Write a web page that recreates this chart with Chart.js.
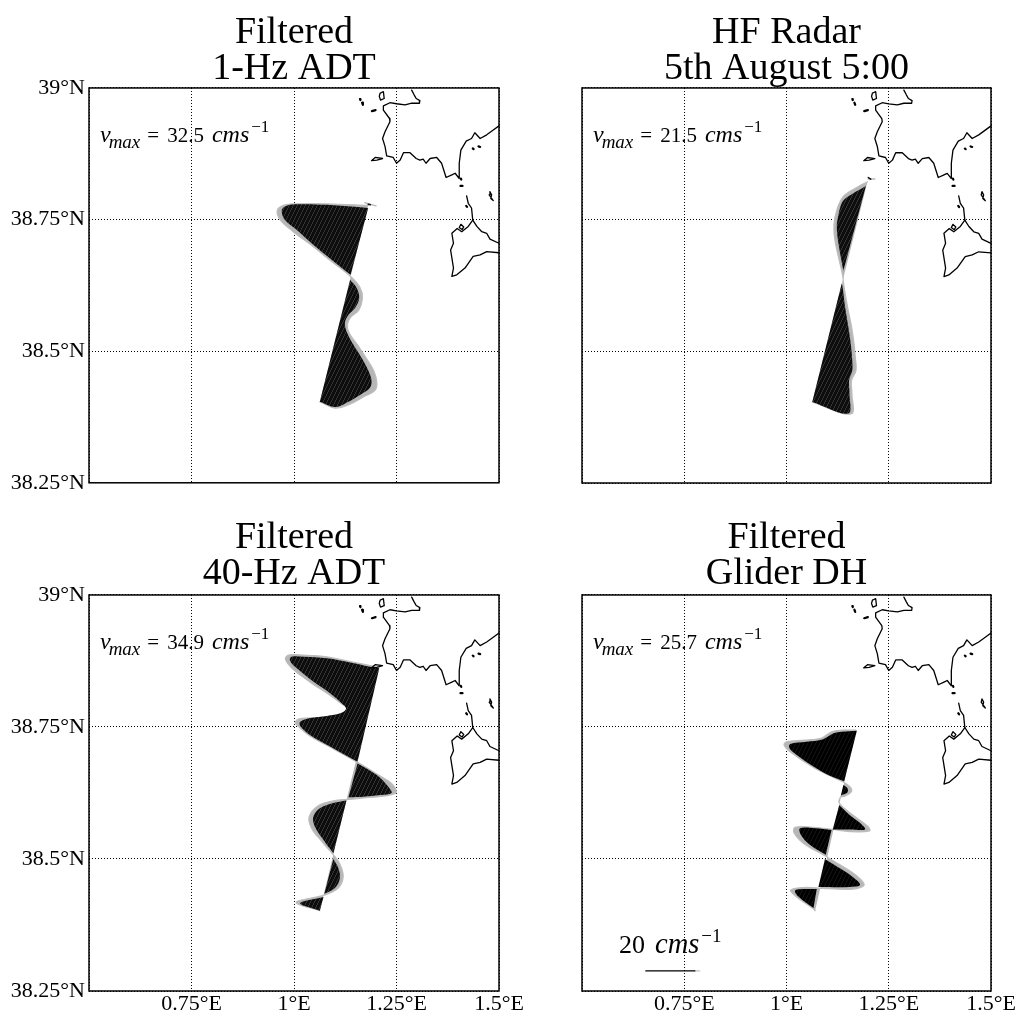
<!DOCTYPE html>
<html><head><meta charset="utf-8">
<script src="https://cdn.jsdelivr.net/npm/chart.js@4"></script>
<style>
html,body{margin:0;padding:0;background:#fff;overflow:hidden;width:1023px;height:1020px}
canvas{position:absolute}
</style></head><body>
<canvas id="p0"></canvas><canvas id="p1"></canvas><canvas id="p2"></canvas><canvas id="p3"></canvas>
<script>
/* axis ticks */
const lonTickValues=[0.5,0.75,1,1.25,1.5];
const lonTickLabels=['','0.75°E','1°E','1.25°E','1.5°E'];
const latTickValues=[38.25,38.5,38.75,39];
const latTickLabels=['38.25°N','38.5°N','38.75°N','39°N'];
const titles=[['Filtered','1-Hz ADT'],['HF Radar','5th August 5:00'],['Filtered','40-Hz ADT'],['Filtered','Glider DH']];
const vmaxValues=['32.5','21.5','34.9','25.7'];
const scaleLabel='20';
const scaleLine=[[0.656,38.288],[0.776,38.288]];
const scaleLineTip=[[0.776,38.288],[0.788,38.288]];

/* coastline, lon/lat */
const coastNorth=[[1.287,38.996],[1.293,38.987],[1.298,38.980],[1.307,38.976],[1.306,38.971],[1.287,38.971],[1.271,38.968],[1.250,38.970],[1.234,38.972],[1.218,38.966],[1.218,38.958],[1.233,38.942],[1.234,38.936],[1.222,38.917],[1.216,38.904],[1.222,38.889],[1.226,38.871],[1.242,38.868],[1.250,38.857],[1.259,38.863],[1.267,38.877],[1.283,38.877],[1.298,38.866],[1.307,38.863],[1.315,38.865],[1.322,38.857],[1.332,38.866],[1.348,38.868],[1.360,38.857],[1.371,38.830],[1.385,38.835],[1.393,38.838],[1.403,38.828],[1.403,38.857],[1.407,38.882],[1.420,38.899],[1.433,38.904],[1.441,38.915],[1.454,38.904],[1.470,38.911],[1.486,38.920],[1.500,38.928]];
const coastEast=[[1.421,38.795],[1.425,38.781],[1.433,38.772],[1.436,38.749],[1.446,38.737],[1.458,38.727],[1.470,38.724],[1.478,38.713],[1.500,38.705]];
const coastSouth=[[1.500,38.687],[1.470,38.689],[1.454,38.683],[1.437,38.680],[1.417,38.658],[1.397,38.645],[1.385,38.642],[1.389,38.658],[1.382,38.692],[1.389,38.705],[1.385,38.724],[1.398,38.733],[1.409,38.727],[1.425,38.737],[1.436,38.749]];
const islandA=[[1.210,38.990],[1.218,38.993],[1.220,38.980],[1.211,38.977],[1.208,38.984],[1.210,38.990]];
const islandB=[[1.189,38.862],[1.198,38.868],[1.216,38.866],[1.202,38.863],[1.189,38.862]];
const islandC=[[1.478,38.803],[1.482,38.797],[1.480,38.790],[1.486,38.786],[1.476,38.797],[1.478,38.803]];
const islandD=[[1.407,38.741],[1.414,38.736],[1.410,38.731],[1.403,38.735],[1.407,38.741]];
const islets=[[[1.161,38.979],[1.162,38.977]],[[1.166,38.972],[1.168,38.968]],[[1.190,38.956],[1.199,38.958]],[[1.436,38.885],[1.438,38.884]],[[1.450,38.889],[1.454,38.888]],[[1.407,38.828],[1.408,38.826]],[[1.406,38.814],[1.411,38.814]],[[1.420,38.776],[1.422,38.774]]];

/* 1-Hz ADT */
const adt1Lobes=[
 [[1.181,38.772],[1.080,38.778],[1.003,38.779],[0.978,38.775],[0.970,38.767],[0.978,38.749],[1.007,38.730],[1.047,38.702],[1.088,38.676],[1.138,38.645]],
 [[1.137,38.635],[1.153,38.620],[1.159,38.601],[1.149,38.582],[1.133,38.569],[1.124,38.553],[1.130,38.534],[1.145,38.512],[1.165,38.487],[1.181,38.464],[1.189,38.445],[1.185,38.430],[1.161,38.417],[1.133,38.404],[1.100,38.394],[1.063,38.404]]];
const adt1Edge=[[1.181,38.777],[1.080,38.780],[1.003,38.780],[0.974,38.777],[0.959,38.767],[0.967,38.749],[0.998,38.727],[1.043,38.701],[1.084,38.675],[1.138,38.642],[1.161,38.621],[1.167,38.601],[1.158,38.578],[1.138,38.564],[1.130,38.550],[1.135,38.534],[1.155,38.512],[1.176,38.487],[1.194,38.464],[1.202,38.442],[1.198,38.426],[1.169,38.413],[1.138,38.400],[1.100,38.392],[1.063,38.404]];
const adt1Tip=[[1.173,38.782],[1.200,38.776]];
const adt1TipDark=[[1.181,38.779],[1.186,38.778]];

/* HF radar */
const radarLobes=[
 [[1.194,38.814],[1.147,38.792],[1.135,38.781],[1.127,38.759],[1.123,38.737],[1.127,38.705],[1.139,38.653]],
 [[1.135,38.629],[1.137,38.623],[1.143,38.585],[1.151,38.547],[1.157,38.515],[1.160,38.490],[1.161,38.464],[1.153,38.445],[1.154,38.420],[1.151,38.382],[1.063,38.404]]];
const radarEdge=[[1.198,38.822],[1.176,38.813],[1.139,38.794],[1.123,38.768],[1.116,38.740],[1.119,38.708],[1.137,38.645],[1.140,38.626],[1.149,38.585],[1.159,38.547],[1.165,38.515],[1.168,38.490],[1.170,38.464],[1.159,38.445],[1.160,38.420],[1.158,38.381],[1.063,38.404]];
const radarTip=[[1.200,38.827],[1.216,38.827]];
const radarTipDark=[[1.200,38.830],[1.206,38.827]];

/* 40-Hz ADT */
const adt40Lobes=[
 [[1.208,38.861],[1.185,38.864],[1.137,38.872],[1.080,38.880],[1.023,38.883],[0.994,38.883],[0.990,38.876],[1.007,38.861],[1.047,38.836],[1.088,38.814],[1.116,38.795],[1.127,38.785],[1.116,38.777],[1.080,38.771],[1.039,38.767],[1.015,38.760],[1.015,38.752],[1.039,38.735],[1.088,38.713],[1.155,38.684]],
 [[1.155,38.681],[1.202,38.659],[1.230,38.637],[1.238,38.625],[1.210,38.621],[1.169,38.618],[1.133,38.617]],
 [[1.128,38.611],[1.096,38.606],[1.063,38.596],[1.047,38.580],[1.051,38.561],[1.072,38.536],[1.096,38.511]],
 [[1.096,38.500],[1.108,38.483],[1.112,38.464],[1.100,38.445],[1.074,38.434]],
 [[1.072,38.428],[1.015,38.416],[1.063,38.402]]];
const adt40Edge=[[1.206,38.863],[1.137,38.874],[1.080,38.883],[1.023,38.886],[0.986,38.886],[0.979,38.878],[0.998,38.859],[1.043,38.833],[1.086,38.811],[1.116,38.794],[1.133,38.784],[1.122,38.775],[1.080,38.768],[1.039,38.767],[1.011,38.765],[1.003,38.758],[1.015,38.748],[1.039,38.733],[1.088,38.712],[1.155,38.683],[1.206,38.659],[1.238,38.643],[1.249,38.626],[1.226,38.620],[1.177,38.616],[1.133,38.613],[1.096,38.610],[1.059,38.601],[1.037,38.580],[1.043,38.558],[1.068,38.533],[1.096,38.508],[1.111,38.492],[1.120,38.467],[1.108,38.445],[1.076,38.432],[1.005,38.418],[1.063,38.402]];

/* glider DH */
const gliderLobes=[
 [[1.172,38.743],[1.135,38.741],[1.115,38.738],[1.090,38.727],[1.049,38.722],[1.009,38.718],[1.007,38.710],[1.025,38.697],[1.066,38.675],[1.102,38.659],[1.141,38.647]],
 [[1.139,38.640],[1.149,38.634],[1.149,38.626],[1.135,38.621],[1.132,38.617]],
 [[1.129,38.602],[1.155,38.583],[1.180,38.568],[1.192,38.556],[1.155,38.556],[1.113,38.556]],
 [[1.110,38.555],[1.070,38.558],[1.033,38.558],[1.035,38.546],[1.057,38.527],[1.096,38.508]],
 [[1.094,38.500],[1.123,38.486],[1.155,38.470],[1.180,38.451],[1.155,38.447],[1.078,38.447]],
 [[1.074,38.443],[1.041,38.443],[1.021,38.440],[1.029,38.429],[1.066,38.407]]];
const gliderEdge=[[1.170,38.744],[1.135,38.744],[1.110,38.741],[1.086,38.729],[1.045,38.725],[1.000,38.722],[0.994,38.716],[1.009,38.703],[1.062,38.675],[1.102,38.659],[1.141,38.645],[1.155,38.637],[1.159,38.628],[1.143,38.619],[1.132,38.617],[1.129,38.606],[1.163,38.583],[1.200,38.561],[1.203,38.553],[1.155,38.552],[1.113,38.556],[1.066,38.560],[1.021,38.560],[1.018,38.550],[1.041,38.530],[1.094,38.506],[1.131,38.489],[1.172,38.468],[1.190,38.451],[1.163,38.443],[1.078,38.445],[1.041,38.446],[1.010,38.441],[1.025,38.428],[1.065,38.406],[1.070,38.402]];

const SERIF='"Liberation Serif","Times New Roman",serif';
const toXY=a=>a.map(p=>({x:p[0],y:p[1]}));

function hatch(base,line){
  const c=document.createElement('canvas');c.width=4;c.height=8;
  const g=c.getContext('2d');g.fillStyle=base;g.fillRect(0,0,4,8);
  g.fillStyle=line;
  [[3,0],[3,1],[2,2],[2,3],[1,4],[1,5],[0,6],[0,7]].forEach(p=>g.fillRect(p[0],p[1],1,1));
  return g.createPattern(c,'repeat');
}

function lineSet(points,color,width,extra){
  return Object.assign({data:toXY(points),showLine:true,borderColor:color,borderWidth:width,pointRadius:0,tension:0,fill:false,borderCapStyle:'round',borderJoinStyle:'round'},extra||{});
}

const framePlugin={id:'frame',afterDatasetsDraw(ch){
  const a=ch.chartArea,g=ch.ctx;g.save();g.strokeStyle='#000';g.lineWidth=1.5;g.setLineDash([]);
  g.strokeRect(a.left,a.top,a.width,a.height);g.restore();
}};

function mathRun(g,runs,x,y){
  runs.forEach(r=>{g.font=(r.i?'italic ':'')+r.s+'px '+SERIF;g.fillText(r.t,x+(r.dx||0),y+(r.dy||0));x+=(r.dx||0)+g.measureText(r.t).width;});
  return x;
}
const notePlugin={id:'note',afterDraw(ch,args,opts){
  const a=ch.chartArea,g=ch.ctx;g.save();g.fillStyle='#000';g.textAlign='left';g.textBaseline='alphabetic';
  mathRun(g,[{t:'v',s:24,i:1},{t:'max',s:19,i:1,dy:5.5,dx:-2},{t:'=',s:21,dx:7},{t:opts.vmax,s:21,dx:8},{t:'cms',s:24,i:1,dx:8},{t:'\u22121',s:17,dy:-10,dx:2}],a.left+11,a.top+54.5);
  if(opts.scale){
    mathRun(g,[{t:scaleLabel,s:26},{t:'cms',s:28.5,i:1,dx:10},{t:'\u22121',s:19,dy:-11,dx:2}],a.left+37,a.top+358);
  }
  g.restore();
}};

function coastSets(){
  const s=[coastNorth,coastEast,coastSouth,islandA,islandB,islandC,islandD].map(p=>lineSet(p,'#000',1.3));
  islets.forEach(p=>s.push(lineSet(p,'#000',2.2)));
  return s;
}

const panels=[
 {lobes:adt1Lobes,edge:adt1Edge,tip:adt1Tip,tipDark:adt1TipDark,left:0,top:0,w:588,h:500,ink:['#0d0d0d','#333333'],titlePad:{top:15,bottom:1}},
 {lobes:radarLobes,edge:radarEdge,tip:radarTip,tipDark:radarTipDark,left:550,top:0,w:473,h:500,ink:['#0d0d0d','#333333'],titlePad:{top:15,bottom:1}},
 {lobes:adt40Lobes,edge:adt40Edge,left:0,top:507,w:588,h:513,ink:['#0d0d0d','#333333'],titlePad:{top:13,bottom:3}},
 {lobes:gliderLobes,edge:gliderEdge,left:550,top:507,w:473,h:513,ink:['#000000','#141414'],scale:true,titlePad:{top:13,bottom:3}}
];

panels.forEach((p,i)=>{
  const cv=document.getElementById('p'+i);
  cv.width=p.w;cv.height=p.h;cv.style.left=p.left+'px';cv.style.top=p.top+'px';
  const fillInk=hatch(p.ink[0],p.ink[1]);
  const sets=[lineSet(p.edge,'#bdbdbd',1.2,{fill:'shape',backgroundColor:'#b6b6b6',tension:0.35})];
  if(p.tip) sets.push(lineSet(p.tip,'#b9b9b9',1.5));
  if(p.tipDark) sets.push(lineSet(p.tipDark,'#111',1.5));
  p.lobes.forEach(l=>sets.push(lineSet(l,'rgba(0,0,0,0)',0,{fill:'shape',backgroundColor:fillInk,tension:0.35})));
  if(p.scale){sets.push(lineSet(scaleLineTip,'#c4c4c4',1.2));sets.push(lineSet(scaleLine,'#000',1.2));}
  coastSets().forEach(s=>sets.push(s));
  sets.forEach((s,k)=>{s.order=sets.length-k;s.clip=false;});
  const leftCol=i%2===0,bottomRow=i>=2;
  new Chart(cv,{type:'scatter',data:{datasets:sets},plugins:[framePlugin,notePlugin],options:{
    responsive:false,animation:false,devicePixelRatio:1,events:[],
    layout:{padding:{left:0,right:leftCol?89:32,top:0,bottom:0}},
    plugins:{legend:{display:false},tooltip:{enabled:false},
      title:{display:true,fullSize:false,text:titles[i],color:'#000',align:'center',font:{family:SERIF,size:38,weight:'normal',lineHeight:0.947},padding:p.titlePad},
      note:{vmax:vmaxValues[i],scale:!!p.scale}},
    scales:{
      x:{type:'linear',min:0.5,max:1.5,
        afterBuildTicks(s){s.ticks=lonTickValues.map(v=>({value:v}));},
        afterFit(s){s.height=bottomRow?29:17;},
        border:{display:false,dash:[1,2]},
        grid:{color:'#000',lineWidth:1,drawTicks:false},
        ticks:{display:bottomRow,color:'#000',padding:0,maxRotation:0,autoSkip:false,font:{family:SERIF,size:22},
          callback(v){const k=lonTickValues.indexOf(v);return k<0?'':lonTickLabels[k];}}},
      y:{type:'linear',min:38.25,max:39,
        afterBuildTicks(s){s.ticks=latTickValues.map(v=>({value:v}));},
        afterFit(s){s.width=leftCol?89:32;},
        border:{display:false,dash:[1,2]},
        grid:{color:'#000',lineWidth:1,drawTicks:false},
        ticks:{display:leftCol,color:'#000',padding:4,autoSkip:false,font:{family:SERIF,size:22},
          callback(v){const k=latTickValues.indexOf(v);return k<0?'':latTickLabels[k];}}}
    }
  }});
});
</script></body></html>
